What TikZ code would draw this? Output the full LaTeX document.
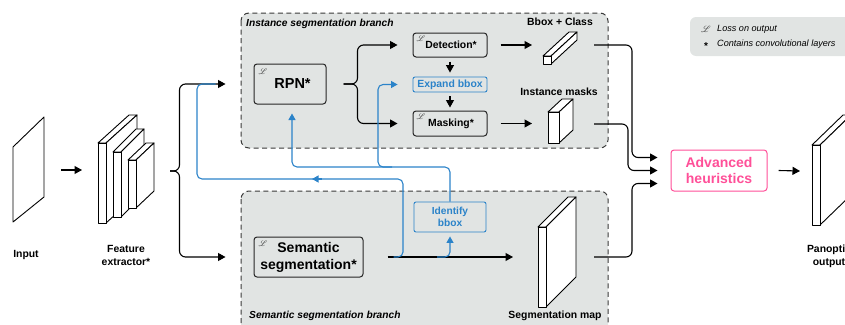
\documentclass[tikz,border=0pt]{standalone}
\usepackage{fontspec}
\setmainfont{Liberation Sans}
\usepackage{mathrsfs}
\usetikzlibrary{arrows.meta}
\definecolor{branchgray}{HTML}{E1E4E3}
\definecolor{lineblue}{HTML}{2B83C9}
\definecolor{hotpink}{HTML}{FF4F98}
\definecolor{dashgray}{HTML}{3A3A3A}
\newcommand\fsz[2]{\fontsize{#1}{#2}\selectfont}
\newcommand\slabshape[6]{%
  \filldraw[slab] (#1,#2) -- ({#1+#5},{#2+#6}) -- ({#3+#5},{#2+#6}) -- (#3,#2) -- cycle;
  \filldraw[slab] (#3,#2) -- ({#3+#5},{#2+#6}) -- ({#3+#5},{#4+#6}) -- (#3,#4) -- cycle;
  \filldraw[slab] (#1,#2) rectangle (#3,#4);
}
\tikzset{
  ln/.style={line width=1.1pt, black},
  arr/.style={ln, -{Triangle[length=7.5pt,width=8pt]}},
  bln/.style={line width=1.1pt, lineblue},
  barr/.style={bln, -{Triangle[length=6.5pt,width=7pt]}},
  slab/.style={fill=white, draw=black, line width=0.9pt, line join=round},
  box/.style={draw=black!85, line width=1pt, rounded corners=3pt, inner sep=0pt},
  bluebox/.style={draw=lineblue, line width=0.9pt, rounded corners=2pt, inner sep=0pt, text=lineblue},
  branch/.style={fill=branchgray, draw=dashgray, line width=1pt, dash pattern=on 5pt off 3.5pt, rounded corners=8pt},
  lbl/.style={font=\fsz{10.4}{12.5}\bfseries, align=center, inner sep=0pt},
  ell/.style={font=\fsz{8.5}{9}, inner sep=0pt, text=black!80},
}
\begin{document}
\begin{tikzpicture}[x=1pt,y=-1pt]
\useasboundingbox (0,0) rectangle (845,324);

% branches
\draw[branch] (241,13) rectangle (608,148);
\draw[branch] (241,191) rectangle (608,340);
\node[anchor=west, inner sep=0pt, font=\fsz{10.2}{12}\bfseries\itshape] (ibt) at (246,24) {Instance segmentation branch};
\node[anchor=west, inner sep=0pt, font=\fsz{10.2}{12}\bfseries\itshape] (sbt) at (249,316) {Semantic segmentation branch};

% legend
\fill[branchgray, rounded corners=6pt] (690,17) rectangle (870,56);
\node[ell, font=\fsz{9.5}{10}] (lg1) at (706,29) {$\mathscr{L}$};
\node[inner sep=0pt, font=\fsz{10}{10}\bfseries] (lg2) at (706,46) {*};
\node[anchor=west, inner sep=0pt, font=\fsz{9.1}{11}\itshape] (lt1) at (717,29) {Loss on output};
\node[anchor=west, inner sep=0pt, font=\fsz{9.1}{11}\itshape] (lt2) at (717,44) {Contains convolutional layers};

% input sheet
\filldraw[slab] (13,147) -- (44,117) -- (44,197) -- (13,222) -- cycle;
\node[lbl] (inputlbl) at (26,255) {Input};
\coordinate (inR) at (61,170);
\coordinate (featL) at (82,170);

% feature extractor
\slabshape{98}{143}{106}{223}{31}{-28}
\slabshape{113}{152}{121}{217}{23}{-23}
\slabshape{128}{160}{136}{208}{18}{-17}
\node[lbl] (featlbl) at (126,255.5) {Feature\\extractor*};
\coordinate (featout) at (170,171);

% bbox bar
\slabshape{543}{56}{551}{64}{26}{-24}
\node[lbl] (bboxlbl) at (560,22) {Bbox + Class};
\coordinate (bboxin) at (532,45);
\coordinate (bboxout) at (594,45);

% instance masks
\slabshape{548}{112}{559}{143}{14}{-13}
\node[lbl] (masklbl) at (559,92) {Instance masks};
\coordinate (maskin) at (532,123.5);
\coordinate (maskout) at (594,124);

% segmentation map
\slabshape{538}{227}{546}{307}{30}{-30}
\node[lbl] (seglbl) at (555,316) {Segmentation map};
\coordinate (segin) at (513,257);
\coordinate (segout) at (594,257);

% panoptic output
\slabshape{812}{145}{820}{225}{31}{-30}
\node[lbl] (panlbl) at (829,256.5) {Panoptic\\output};
\coordinate (panin) at (800,171);

% boxes
\node[box, minimum width=72pt, minimum height=40pt, font=\fsz{14.5}{17}\bfseries] (rpn) at (290,84) {\hspace*{5pt}RPN*};
\node[ell, anchor=north west] at ([xshift=5pt,yshift=-5pt]rpn.north west) {$\mathscr{L}$};
\node[box, minimum width=109pt, minimum height=40pt, align=center, font=\fsz{14}{17}\bfseries] (sem) at (308.5,257) {Semantic\\segmentation*};
\node[ell, anchor=north west] at ([xshift=5pt,yshift=-4pt]sem.north west) {$\mathscr{L}$};
\node[box, minimum width=74pt, minimum height=24pt, font=\fsz{10.4}{12}\bfseries] (det) at (450,45) {\hspace*{2pt}\raisebox{-1pt}{Detection*}};
\node[ell, anchor=north west] at ([xshift=4pt,yshift=-3pt]det.north west) {$\mathscr{L}$};
\node[bluebox, minimum width=74pt, minimum height=15pt, font=\fsz{10.4}{12}\bfseries] (exp) at (450,84.5) {Expand bbox};
\node[box, minimum width=74pt, minimum height=25pt, font=\fsz{10.4}{12}\bfseries] (mask) at (450,123.5) {\hspace*{2pt}\raisebox{-1pt}{Masking*}};
\node[ell, anchor=north west] at ([xshift=4pt,yshift=-3pt]mask.north west) {$\mathscr{L}$};
\node[bluebox, minimum width=72pt, minimum height=30pt, align=center, font=\fsz{10.2}{12.5}\bfseries] (ident) at (450,217) {Identify\\bbox};
\node[draw=hotpink, line width=1pt, rounded corners=3pt, minimum width=96pt, minimum height=41pt, align=center, text=hotpink, inner sep=0pt, font=\fsz{14}{16}\bfseries] (adv) at (719,170.5) {Advanced\\heuristics};

% black connectors
\draw[arr] (inR) -- (featL);
\draw[arr, rounded corners=6pt] (featout) -| ([xshift=-74pt]rpn.west) -- ([xshift=-28pt]rpn.west);
\draw[arr, rounded corners=6pt] (featout) -| ([xshift=-74pt]sem.west) -- ([xshift=-28pt]sem.west);
\draw[arr, rounded corners=6pt] ([xshift=17pt]rpn.east) -| ([xshift=-55pt]det.west) -- ([xshift=-15pt]det.west);
\draw[arr, rounded corners=6pt] ([xshift=17pt]rpn.east) -| ([xshift=-55pt]mask.west) -- ([xshift=-15pt]mask.west);
\draw[arr] ([yshift=-4pt]det.south) -- ([yshift=4pt]exp.north);
\draw[arr] ([yshift=-4pt]exp.south) -- ([yshift=3pt]mask.north);
\draw[arr] ([xshift=13pt]det.east) -- (bboxin);
\draw[arr] ([xshift=13pt]mask.east) -- (maskin);
\draw[arr] ([xshift=24pt]sem.east) -- (segin);
\draw[arr, rounded corners=6pt] (bboxout) -| (632,157.5) -- ([xshift=-13pt,yshift=13pt]adv.west);
\draw[arr, rounded corners=6pt] (maskout) -| (628,170.5) -- ([xshift=-13pt]adv.west);
\draw[arr, rounded corners=6pt] (segout) -| (632,183.5) -- ([xshift=-13pt,yshift=-13pt]adv.west);
\draw[arr] ([xshift=11pt]adv.east) -- (panin);

% blue connectors
\draw[bln, rounded corners=5pt] ([xshift=30pt]sem.east) -| (403,179) -- (197,179) -- (197,84) -- ([xshift=-38pt]rpn.west);
\draw[barr] (322,179) -- (312,179);
\draw[barr, rounded corners=5pt] (ident.north) |- (292,167) -- ([xshift=2pt,yshift=-9pt]rpn.south);
\draw[barr, rounded corners=5pt] (392,167) -| (378,84.5) -- ([xshift=-15pt]exp.west);
\draw[barr, rounded corners=5pt] (437,257) -| ([yshift=-4pt]ident.south);
\end{tikzpicture}
\end{document}
